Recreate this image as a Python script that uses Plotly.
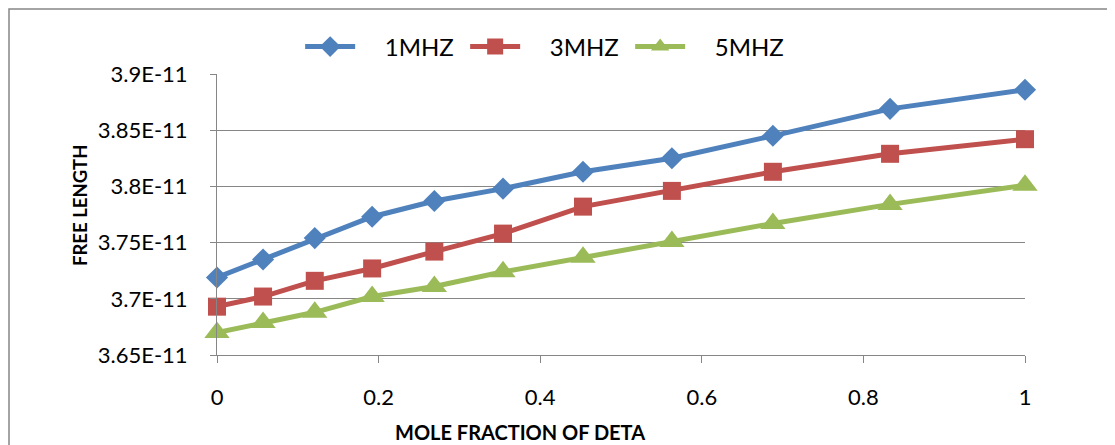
import plotly.graph_objects as go

mole_fraction = [0, 0.057, 0.121, 0.192, 0.269, 0.354, 0.453, 0.563, 0.688, 0.833, 1.0]
f1mhz = [3.719e-11, 3.735e-11, 3.754e-11, 3.773e-11, 3.787e-11, 3.798e-11, 3.813e-11, 3.825e-11, 3.845e-11, 3.869e-11, 3.886e-11]
f3mhz = [3.693e-11, 3.702e-11, 3.716e-11, 3.727e-11, 3.742e-11, 3.758e-11, 3.782e-11, 3.796e-11, 3.813e-11, 3.829e-11, 3.842e-11]
f5mhz = [3.670e-11, 3.679e-11, 3.688e-11, 3.702e-11, 3.711e-11, 3.724e-11, 3.737e-11, 3.751e-11, 3.767e-11, 3.784e-11, 3.801e-11]
series_names = ["1MHZ", "3MHZ", "5MHZ"]
y_tickvals = [3.65e-11, 3.70e-11, 3.75e-11, 3.80e-11, 3.85e-11, 3.90e-11]
y_ticktext = ["3.65E-11", "3.7E-11", "3.75E-11", "3.8E-11", "3.85E-11", "3.9E-11"]
x_tickvals = [0, 0.2, 0.4, 0.6, 0.8, 1]
x_ticktext = ["0", "0.2", "0.4", "0.6", "0.8", "1"]
x_title = "MOLE FRACTION OF DETA"
y_title = "FREE LENGTH"

colors = ["#4F81BD", "#C0504D", "#9BBB59"]
symbols = ["diamond", "square", "triangle-up"]
sizes = [17, 18, 22]

fig = go.Figure()
for name, vals, c, s, sz in zip(series_names, [f1mhz, f3mhz, f5mhz], colors, symbols, sizes):
    fig.add_trace(go.Scatter(
        x=mole_fraction, y=vals, name="\u00a0\u00a0\u00a0\u00a0" + name,
        mode="lines+markers",
        line=dict(color=c, width=5),
        marker=dict(symbol=s, size=sz, color=c),
        cliponaxis=False,
    ))

W, H = 1107, 437
L, T, R, B = 209, 66, 90, 90
PH = H - T - B
PW = W - L - R

fig.update_layout(
    width=W, height=H,
    margin=dict(l=L, r=R, t=T, b=B),
    paper_bgcolor="white", plot_bgcolor="white",
    font=dict(family="Lato, Open Sans, sans-serif", color="black"),
    showlegend=True,
    legend=dict(orientation="h", x=(297 - 209) / PW - 0.006, xanchor="left",
                y=(347 - 39) / PH, yanchor="middle",
                font=dict(size=24), entrywidth=100, itemwidth=50,
                bgcolor="rgba(0,0,0,0)"),
    xaxis=dict(range=[0, 1], tickvals=x_tickvals, ticktext=x_ticktext,
               showgrid=False, zeroline=False, showline=True, linecolor="#868686", linewidth=1,
               ticks="outside", ticklen=7, tickcolor="#868686",
               tickfont=dict(size=22), ticklabelstandoff=16),
    yaxis=dict(range=[3.65e-11, 3.90e-11], tickvals=y_tickvals, ticktext=y_ticktext,
               showgrid=True, gridcolor="#868686", gridwidth=1, zeroline=False,
               showline=True, linecolor="#868686", linewidth=1,
               ticks="outside", ticklen=6, tickcolor="#868686",
               tickfont=dict(size=22), ticklabelstandoff=18),
    annotations=[
        dict(text="<b>" + x_title + "</b>", xref="paper", yref="paper",
             x=(512 - 209) / PW, y=-(424 - 347) / PH, xanchor="center", yanchor="middle",
             showarrow=False, font=dict(size=20)),
        dict(text="<b>" + y_title + "</b>", xref="paper", yref="paper",
             x=-(209 - 72) / PW, y=(347 - 198) / PH, xanchor="center", yanchor="middle",
             textangle=-90, showarrow=False, font=dict(size=18.5)),
    ],
)

fig.add_shape(type="rect", xref="paper", yref="paper",
              x0=-(L - 1) / PW, x1=1.2, y0=-0.5, y1=(T - 1) / PH + 1,
              line=dict(color="#868686", width=1.5), fillcolor="rgba(0,0,0,0)", layer="below")

fig.write_html("out.html")
